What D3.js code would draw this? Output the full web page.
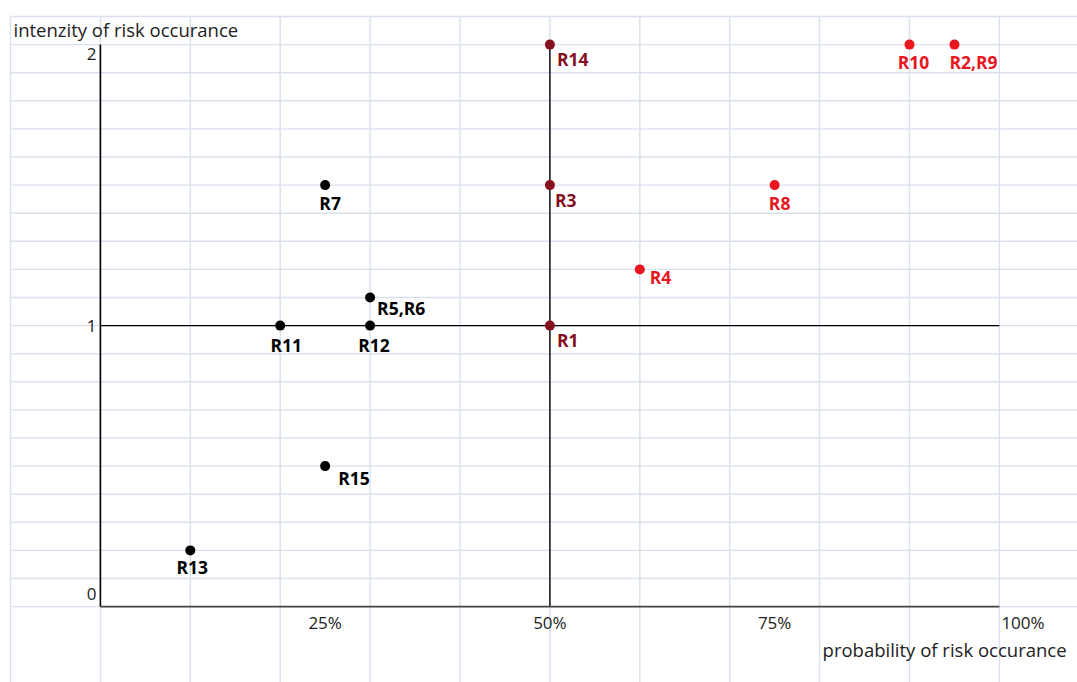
<!DOCTYPE html>
<html>
<head>
<meta charset="utf-8">
<script src="https://cdn.jsdelivr.net/npm/d3@7/dist/d3.min.js"></script>
<style>
  html, body { margin: 0; padding: 0; background: #fff; }
  svg { display: block; }
  text { font-family: "Open Sans", Lato, "DejaVu Sans", sans-serif; }
</style>
</head>
<body>
<svg id="chart" width="1077" height="682"></svg>
<script>
// Risk points: probability (share of 1) and intensity of occurrence
const riskNames   = ["R14", "R3", "R1", "R10", "R2,R9", "R8", "R4", "R7", "R5,R6", "R11", "R12", "R15", "R13"];
const probability = [0.50, 0.50, 0.50, 0.90, 0.95, 0.75, 0.60, 0.25, 0.30, 0.20, 0.30, 0.25, 0.10];
const intensity   = [2.0, 1.5, 1.0, 2.0, 2.0, 1.5, 1.2, 1.5, 1.1, 1.0, 1.0, 0.5, 0.2];
const riskGroup   = ["mid", "mid", "mid", "high", "high", "high", "high", "low", "low", "low", "low", "low", "low"];

const xTickLabels = ["25%", "50%", "75%", "100%"];
const xTickValues = [0.25, 0.50, 0.75, 1.00];
const yTickLabels = ["2", "1", "0"];
const yTickValues = [2, 1, 0];

const xTitle = "probability of risk occurance";
const yTitle = "intenzity of risk occurance";

const groupColor = { low: "#000000", mid: "#861020", high: "#E8161F" };

// label placement relative to each point: [dx, dy, anchor]
const labelPlacement = {
  "R14":   [7, 21, "start"],
  "R3":    [5, 22, "start"],
  "R1":    [7, 21, "start"],
  "R10":   [4, 24, "middle"],
  "R2,R9": [-5, 24, "start"],
  "R8":    [5, 25, "middle"],
  "R4":    [10, 15, "start"],
  "R7":    [5, 25, "middle"],
  "R5,R6": [7, 17, "start"],
  "R11":   [6, 26, "middle"],
  "R12":   [4, 26, "middle"],
  "R15":   [13, 19, "start"],
  "R13":   [2, 24, "middle"]
};

const W = 1077, H = 682;
const svg = d3.select("#chart");

const x = d3.scaleLinear().domain([0, 1]).range([100.4, 999.4]);
const y = d3.scaleLinear().domain([0, 2]).range([606.6, 44.6]);

// spreadsheet cell grid: one column per 10 %, one row per 0.1 of intensity
const colStep = 0.1, rowStep = 0.1;
const colVals = d3.range(-1, 12).map(i => i * colStep);
const rowVals = d3.range(-4, 22).map(i => 2.1 - i * rowStep);
const gridLeft = x(-colStep), gridTop = y(2 + rowStep);

const grid = svg.append("g").attr("stroke", "#DAE0EC").attr("stroke-width", 1.4);
grid.selectAll("line.v").data(colVals).join("line")
  .attr("class", "v")
  .attr("x1", d => x(d)).attr("x2", d => x(d))
  .attr("y1", gridTop).attr("y2", H);
grid.selectAll("line.h").data(rowVals).join("line")
  .attr("class", "h")
  .attr("x1", gridLeft).attr("x2", W)
  .attr("y1", d => y(d)).attr("y2", d => y(d));

// quadrant dividers
svg.append("line")
  .attr("x1", x(0)).attr("x2", x(1)).attr("y1", y(1)).attr("y2", y(1))
  .attr("stroke", "#000").attr("stroke-width", 1.4);
svg.append("line")
  .attr("x1", x(0.5)).attr("x2", x(0.5)).attr("y1", y(2)).attr("y2", y(0))
  .attr("stroke", "#000").attr("stroke-width", 1.4);

// axes
svg.append("line")
  .attr("x1", x(0)).attr("x2", x(0)).attr("y1", y(2)).attr("y2", y(0))
  .attr("stroke", "#000").attr("stroke-width", 1.6);
svg.append("line")
  .attr("x1", x(0)).attr("x2", x(1)).attr("y1", y(0)).attr("y2", y(0))
  .attr("stroke", "#444").attr("stroke-width", 1.6);

// y tick labels sit in the cells next to the axis
const yLabelShift = { "2": 15, "1": 6, "0": -7 };
svg.append("g").selectAll("text").data(yTickValues).join("text")
  .attr("x", x(0) - 4)
  .attr("y", (d, i) => y(d) + yLabelShift[yTickLabels[i]])
  .attr("text-anchor", "end")
  .attr("font-size", 17)
  .attr("fill", "#222")
  .text((d, i) => yTickLabels[i]);

// x tick labels
svg.append("g").selectAll("text").data(xTickValues).join("text")
  .attr("x", d => d === 1 ? x(d) + 2 : x(d))
  .attr("y", y(0) + 22)
  .attr("text-anchor", d => d === 1 ? "start" : "middle")
  .attr("font-size", 17)
  .attr("fill", "#222")
  .text((d, i) => xTickLabels[i]);

// titles
svg.append("text")
  .attr("x", gridLeft + 3).attr("y", y(2) - 8)
  .attr("font-size", 18.5).attr("fill", "#222")
  .text(yTitle);
svg.append("text")
  .attr("x", x(0.8) + 3).attr("y", y(0) + 50)
  .attr("font-size", 18.5).attr("fill", "#222")
  .text(xTitle);

// points
const pts = riskNames.map((n, i) => ({ name: n, p: probability[i], v: intensity[i], g: riskGroup[i] }));

svg.append("g").selectAll("circle").data(pts).join("circle")
  .attr("cx", d => x(d.p))
  .attr("cy", d => y(d.v))
  .attr("r", 5)
  .attr("fill", d => groupColor[d.g]);

svg.append("g").selectAll("text").data(pts).join("text")
  .attr("x", d => x(d.p) + labelPlacement[d.name][0])
  .attr("y", d => y(d.v) + labelPlacement[d.name][1])
  .attr("text-anchor", d => labelPlacement[d.name][2])
  .attr("font-size", 17.5)
  .attr("font-weight", "bold")
  .attr("fill", d => groupColor[d.g])
  .text(d => d.name);
</script>
</body>
</html>
